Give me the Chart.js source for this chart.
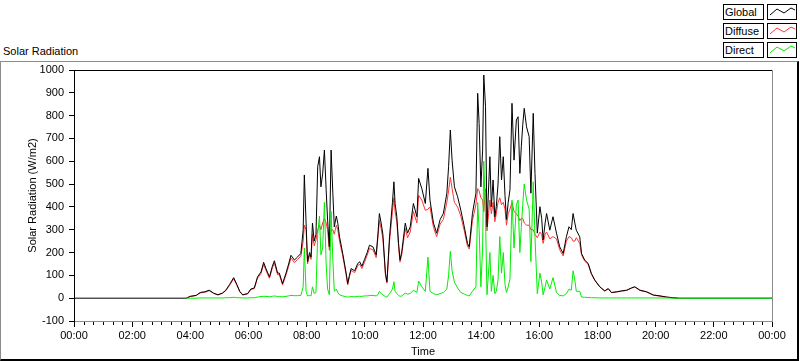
<!DOCTYPE html>
<html><head><meta charset="utf-8">
<script src="https://cdn.jsdelivr.net/npm/chart.js@4.4.1/dist/chart.umd.min.js"></script>
<style>
html,body{margin:0;padding:0;background:#fff;}
#wrap{position:relative;width:800px;height:361px;overflow:hidden;font-family:"Liberation Sans",Arial,sans-serif;font-size:11px;color:#000;background:#fff;}
#c{position:absolute;left:0;top:0;}
#frame{position:absolute;left:0;top:61px;width:796px;height:297px;border-top:1px solid #8c8c8c;border-left:1px solid #8c8c8c;border-right:2px solid #000;border-bottom:2px solid #000;box-sizing:content-box;}
#title{position:absolute;left:3px;top:45px;font-size:11px;}
#legend{position:absolute;left:720px;top:0;width:80px;height:61px;background:#fff;}
.row{position:absolute;left:0;height:15px;}
.lab{position:absolute;left:3px;top:0;width:38px;height:14px;border:1px solid #000;line-height:14px;padding-left:1px;box-sizing:content-box;font-size:11px;}
.sw{position:absolute;left:47px;top:0;width:28px;height:14px;border:1px solid #000;}
</style></head>
<body><div id="wrap">
<div id="frame"></div>
<div id="title">Solar Radiation</div>
<canvas id="c" width="800" height="361"></canvas>
<div id="legend">
 <div class="row" style="top:4px"><div class="lab">Global</div><div class="sw"><svg width="28" height="14"><polyline points="2,10 9,4 16,8 23,3 27,5" fill="none" stroke="#000" stroke-width="1"/></svg></div></div>
 <div class="row" style="top:23px"><div class="lab">Diffuse</div><div class="sw"><svg width="28" height="14"><polyline points="2,10 9,4 16,8 23,3 27,5" fill="none" stroke="#ff3333" stroke-width="1"/></svg></div></div>
 <div class="row" style="top:42px"><div class="lab">Direct</div><div class="sw"><svg width="28" height="14"><polyline points="2,10 9,4 16,8 23,3 27,5" fill="none" stroke="#00ee00" stroke-width="1"/></svg></div></div>
</div>
</div>
<script>
// time in hours of day
const times = [0,3.86,4.0,4.2,4.34,4.5,4.65,4.8,4.95,5.1,5.22,5.35,5.49,5.6,5.7,5.8,5.97,6.08,6.2,6.31,6.43,6.52,6.6,6.72,6.82,6.89,7.0,7.06,7.17,7.29,7.38,7.46,7.58,7.69,7.8,7.88,7.92,7.98,8.03,8.1,8.15,8.2,8.26,8.32,8.38,8.44,8.49,8.55,8.61,8.67,8.72,8.78,8.84,8.9,8.95,9.02,9.07,9.13,9.24,9.36,9.41,9.47,9.53,9.65,9.75,9.82,9.9,9.99,10.08,10.16,10.28,10.39,10.45,10.5,10.56,10.62,10.71,10.76,10.85,10.95,11.0,11.04,11.1,11.16,11.21,11.27,11.39,11.47,11.56,11.67,11.79,11.85,11.96,12.08,12.17,12.24,12.36,12.47,12.59,12.7,12.82,12.88,12.94,13.0,13.08,13.19,13.3,13.42,13.53,13.59,13.7,13.82,13.88,13.93,13.99,14.05,14.09,14.15,14.2,14.3,14.35,14.41,14.47,14.52,14.58,14.64,14.7,14.76,14.82,14.87,14.93,14.99,15.06,15.13,15.21,15.27,15.33,15.38,15.43,15.48,15.56,15.65,15.71,15.79,15.85,15.93,16.02,16.08,16.13,16.2,16.25,16.36,16.47,16.59,16.7,16.82,16.93,17.02,17.1,17.16,17.22,17.27,17.39,17.45,17.56,17.68,17.79,17.91,18.08,18.25,18.37,18.48,18.66,18.83,19.0,19.17,19.28,19.46,19.69,19.92,20.15,20.38,20.6,20.78,24];
const globalValues = [0,0,8,12,25,28,35,22,15,22,35,60,90,60,30,15,20,40,45,93,115,157,130,93,140,164,110,110,64,110,150,188,167,181,196,300,540,329,160,200,180,329,250,280,576,620,488,545,649,475,342,225,649,460,313,360,329,269,196,108,64,100,130,120,150,160,140,170,200,232,225,190,280,371,330,280,108,72,270,420,510,415,357,240,167,204,329,285,313,415,357,525,480,415,569,430,329,285,345,371,460,576,737,605,488,445,386,313,240,225,371,460,898,766,488,649,978,839,313,620,401,518,357,401,500,708,518,620,450,345,420,475,854,605,781,795,547,664,760,832,751,708,460,810,547,285,401,350,255,330,371,298,357,285,225,196,269,313,300,371,330,298,269,196,167,152,108,79,50,32,42,25,28,32,35,45,50,35,28,14,10,5,2,0,0];
const diffuseValues = [null,0,8,12,23,26,33,21,14,21,33,57,85,57,28,14,19,38,42,88,108,148,122,87,132,154,103,103,58,102,140,176,156,170,184,250,320,300,150,190,170,280,230,255,300,320,300,330,350,330,300,210,300,300,280,320,300,250,185,100,58,94,122,112,140,150,130,158,188,218,212,178,265,340,305,262,100,66,250,380,440,380,335,225,158,192,305,265,290,380,330,450,430,385,390,400,310,270,325,345,420,470,530,480,420,400,360,295,228,215,340,410,480,470,440,430,380,480,295,430,370,420,335,370,420,440,410,420,390,320,370,390,420,380,370,360,340,350,350,330,320,320,300,300,280,265,290,280,240,280,290,260,270,260,212,185,250,270,265,250,250,265,240,190,162,148,105,77,49,31,41,24,27,31,34,44,49,34,27,13,9,4,2,0,null];
const directValues = [null,0,0,0,1,1,1,1,1,1,2,2,4,2,2,1,1,2,2,5,7,8,8,6,8,10,7,7,6,8,10,12,11,11,12,50,220,30,10,12,10,50,20,25,280,360,190,220,420,150,40,15,380,170,30,40,25,15,10,6,5,6,7,6,8,8,8,10,10,12,12,10,15,30,20,15,6,5,20,40,72,30,20,12,8,10,22,18,20,35,25,75,50,30,180,30,20,15,20,25,40,100,205,120,70,45,25,18,12,10,30,50,420,300,50,220,600,350,15,200,30,100,20,30,80,270,110,200,60,25,50,85,430,220,410,430,200,310,410,500,430,390,160,510,270,20,110,70,15,50,80,40,90,25,12,10,20,40,35,120,80,30,30,5,4,3,2,2,1,1,1,1,1,1,1,1,1,1,1,1,1,1,0,0,0,null];
const yTicks = [-100,0,100,200,300,400,500,600,700,800,900,1000];

const pts = arr => times.map((t,i)=>({x:t,y:arr[i]}));
const tickFont = {family:'"Liberation Sans", Arial, sans-serif', size:11};

const framePlugin = {
  id:'framePlugin',
  afterDraw(chart){
    const {ctx, chartArea:a, scales:{x}} = chart;
    ctx.save();
    ctx.lineWidth = 1;
    ctx.strokeStyle = '#000';
    ctx.beginPath(); ctx.moveTo(a.left, Math.round(a.top)+0.5); ctx.lineTo(a.right, Math.round(a.top)+0.5); ctx.stroke();
    ctx.strokeStyle = '#8c8c8c';
    ctx.beginPath(); ctx.moveTo(Math.round(a.right)+0.5, a.top); ctx.lineTo(Math.round(a.right)+0.5, a.bottom); ctx.stroke();
    // minor ticks every 20 minutes
    ctx.strokeStyle = '#000';
    ctx.beginPath();
    for (let i=0;i<=72;i++){
      if (i%6===0) continue;
      const px = Math.round(x.getPixelForValue(i/3))+0.5;
      ctx.moveTo(px, Math.round(a.bottom)+1); ctx.lineTo(px, Math.round(a.bottom)+4);
    }
    ctx.stroke();
    ctx.restore();
  }
};

new Chart(document.getElementById('c'), {
  type:'line',
  data:{datasets:[
    {label:'Global', data:pts(globalValues), borderColor:'#000000', borderWidth:1, pointRadius:0, tension:0, order:1},
    {label:'Diffuse', data:pts(diffuseValues), borderColor:'#ff3333', borderWidth:1, pointRadius:0, tension:0, order:2},
    {label:'Direct', data:pts(directValues), borderColor:'#00ee00', borderWidth:1, pointRadius:0, tension:0, order:0}
  ]},
  options:{
    responsive:false, animation:false, devicePixelRatio:1,
    layout:{padding:{top:70,right:28,left:0,bottom:0}},
    plugins:{legend:{display:false}, tooltip:{enabled:false}},
    scales:{
      x:{type:'linear', min:0, max:24,
        afterFit(s){ s.height = 40; },
        ticks:{stepSize:2, autoSkip:false, maxRotation:0, padding:2, color:'#000', font:tickFont,
          callback:v => String(v%24).padStart(2,'0')+':00'},
        grid:{drawOnChartArea:false, drawTicks:true, tickLength:6, color:'#000'},
        border:{display:true, color:'#8c8c8c', width:1},
        title:{display:true, text:'Time', color:'#000', font:tickFont, padding:{top:0,bottom:2}}
      },
      y:{type:'linear', min:-100, max:1000,
        afterFit(s){ s.width = 74; },
        afterBuildTicks(s){ s.ticks = yTicks.map(v=>({value:v})); },
        ticks:{padding:5, color:'#000', font:tickFont, callback:v => String(v)},
        grid:{drawOnChartArea:false, drawTicks:true, tickLength:5, color:'#000'},
        border:{display:true, color:'#000', width:1},
        title:{display:true, text:'Solar Radiation (W/m2)', color:'#000', font:tickFont, padding:{top:26,bottom:0}}
      }
    }
  },
  plugins:[framePlugin]
});
</script>
</body></html>
